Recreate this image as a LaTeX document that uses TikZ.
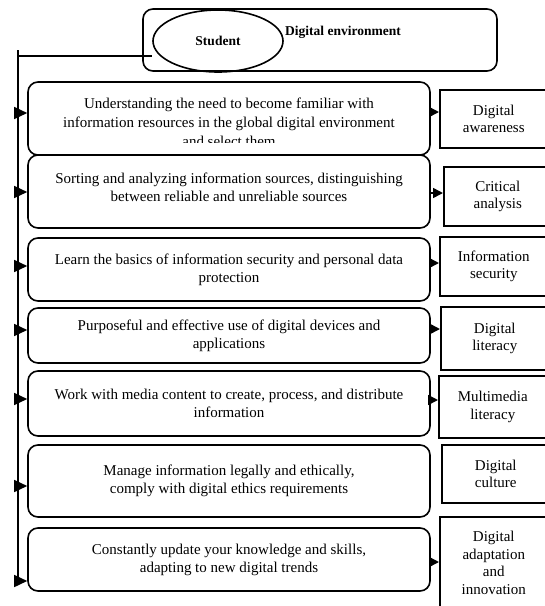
\documentclass[tikz,border=0pt]{standalone}
\usepackage{fontspec}
\setmainfont{Liberation Serif}
\usetikzlibrary{arrows.meta}
\usetikzlibrary{shapes.geometric}
\tikzset{>={Triangle[width=12pt,length=13pt]}}

\begin{document}
\begin{tikzpicture}[x=1pt, y=-1pt, line width=1.6pt,
  topic/.style={draw, rounded corners=10pt, fill=white, minimum width=402pt,
    align=center, inner sep=0pt, font=\fontsize{15}{18}\selectfont},
  topictext/.style={align=center, inner sep=0pt, font=\fontsize{15}{19}\selectfont},
  skill/.style={draw, fill=white, anchor=west, minimum width=108pt,
    align=center, inner sep=0pt, font=\fontsize{15}{17.5}\selectfont},
  head/.style={font=\bfseries\fontsize{13.5}{16}\selectfont},
  short/.style={-{Triangle[width=10pt,length=10pt]}}]
  \useasboundingbox (0,0) rectangle (545,606);
  % Header: environment box with the student inside
  \node[draw, rounded corners=10pt, minimum width=354pt, minimum height=62pt] (env) at (320,40) {};
  \node[head, anchor=west] (envname) at (281,32) {Digital environment};
  \node[head, ellipse, draw, minimum width=130pt, minimum height=62pt] (student) at (218,41) {Student};
  % Activities on the left
  \node[topic, minimum height=73pt] (t1) at (229,118.5) {};
  \begin{scope}
    \clip (t1.north west) rectangle ([yshift=13pt]t1.south east);
    \node[topictext] (t1text) at (229,122) {Understanding the need to become familiar with\\
      information resources in the global digital environment\\ and select them};
  \end{scope}
  \node[topic, minimum height=73pt] (t2) at (229,191.5) {Sorting and analyzing information sources, distinguishing\\
    between reliable and unreliable sources\\[-10pt]};
  \node[topic, minimum height=63pt] (t3) at (229,269.5) {Learn the basics of information security and personal data\\ protection};
  \node[topic, minimum height=55pt] (t4) at (229,335.5) {Purposeful and effective use of digital devices and\\ applications};
  \node[topic, minimum height=65pt] (t5) at (229,403.5) {Work with media content to create, process, and distribute\\ information};
  \node[topic, minimum height=72pt] (t6) at (229,481) {Manage information legally and ethically,\\ comply with digital ethics requirements};
  \node[topic, minimum height=63pt] (t7) at (229,559.5) {Constantly update your knowledge and skills,\\ adapting to new digital trends};
  % Competences on the right
  \node[skill, minimum height=58pt] (s1) at (439,119) {Digital\\ awareness};
  \node[skill, minimum height=59pt] (s2) at (443,196.5) {Critical\\ analysis};
  \node[skill, minimum height=59pt] (s3) at (439,266.5) {Information\\ security};
  \node[skill, minimum height=63pt] (s4) at (440,338.5) {Digital\\ literacy};
  \node[skill, minimum height=62pt] (s5) at (438,407) {Multimedia\\ literacy};
  \node[skill, minimum height=58pt] (s6) at (441,474) {Digital\\ culture};
  \node[skill, minimum height=92pt] (s7) at (439,563) {Digital\\ adaptation\\ and\\ innovation};
  % Spine from the student down the left side
  \coordinate (spinetop) at (18,50);
  \coordinate (spinebot) at (18,581);
  \draw (spinetop) -- (spinebot);
  \draw (18,56) -- (student.west |- 0,56);
  \foreach \topic/\ya in {t1/113, t2/192, t3/266, t4/330, t5/399, t6/486, t7/581}
    \draw[->] (15,\ya) -- (\topic.west |- 0,\ya);
  % Activity to competence
  \foreach \a/\b/\ya in {t1/s1/112, t2/s2/193, t3/s3/263, t4/s4/329, t5/s5/400, t7/s7/562}
    \draw[short] (\a.east |- 0,\ya) -- (\b.west |- 0,\ya);
\end{tikzpicture}
\end{document}
